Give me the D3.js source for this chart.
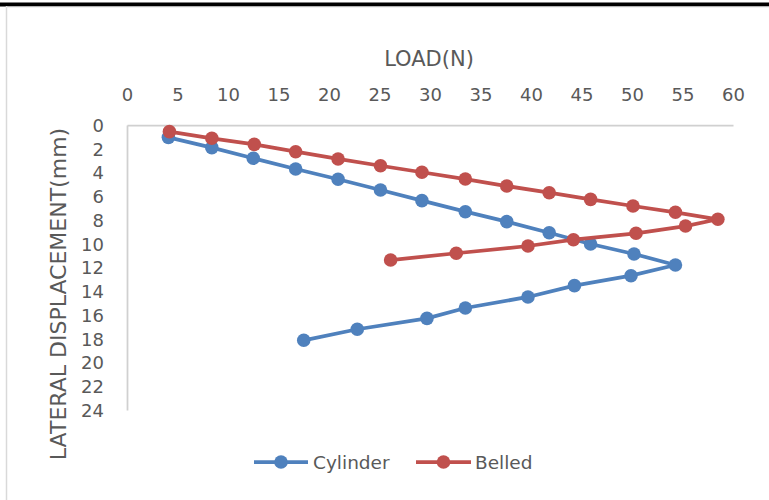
<!DOCTYPE html>
<html>
<head>
<meta charset="utf-8">
<script src="https://cdn.jsdelivr.net/npm/d3@7"></script>
<style>
  html, body { margin: 0; padding: 0; background: #fff; }
  svg { display: block; font-family: "DejaVu Sans", sans-serif; }
</style>
</head>
<body>
<svg id="chart" width="769" height="500"></svg>
<script>
// values
const xTicks = [0, 5, 10, 15, 20, 25, 30, 35, 40, 45, 50, 55, 60];
const yTicks = [0, 2, 4, 6, 8, 10, 12, 14, 16, 18, 20, 22, 24];

const cylinderLoad = [4.1, 8.4, 12.5, 16.7, 20.9, 25.1, 29.2, 33.5, 37.6, 41.8, 45.9, 50.2, 54.3,
  49.9, 44.3, 39.7, 33.5, 29.7, 22.8, 17.5];
const cylinderDisp = [1.04, 1.91, 2.8, 3.71, 4.57, 5.47, 6.37, 7.3, 8.14, 9.07, 10.02, 10.86, 11.79,
  12.69, 13.53, 14.48, 15.41, 16.28, 17.2, 18.13];

const belledLoad = [4.2, 8.4, 12.6, 16.7, 20.9, 25.1, 29.2, 33.5, 37.6, 41.8, 45.9, 50.1, 54.3, 58.5,
  55.3, 50.4, 44.2, 39.7, 32.6, 26.1];
const belledDisp = [0.56, 1.12, 1.63, 2.25, 2.86, 3.43, 3.98, 4.55, 5.14, 5.7, 6.26, 6.82, 7.35, 7.94,
  8.51, 9.12, 9.66, 10.19, 10.8, 11.37];

const seriesNames = ["Cylinder", "Belled"];
const colors = ["#4f81bd", "#c0504d"];

const series = [
  cylinderLoad.map((x, i) => ({ x, y: cylinderDisp[i] })),
  belledLoad.map((x, i) => ({ x, y: belledDisp[i] })),
];

const svg = d3.select("#chart");
const textColor = "#595959";
const gridColor = "#d0d0d0";

// frame: dark bar on top, faint border on the left
svg.append("rect").attr("x", 0).attr("y", 2.5).attr("width", 769).attr("height", 4).attr("fill", "#000");
svg.append("line")
  .attr("x1", 6.5).attr("x2", 6.5).attr("y1", 6).attr("y2", 500)
  .attr("stroke", "#d9d9d9").attr("stroke-width", 1.5);
svg.append("line")
  .attr("x1", 6).attr("x2", 769).attr("y1", 7).attr("y2", 7)
  .attr("stroke", "#e6e6e6").attr("stroke-width", 1);

const x = d3.scaleLinear().domain([0, 60]).range([127, 733]);
const y = d3.scaleLinear().domain([0, 24]).range([125, 410]);

// top x axis
const xAxis = d3.axisTop(x).tickValues(xTicks).tickSize(0).tickPadding(0);
const xAxisG = svg.append("g").attr("transform", `translate(0,${y(0)})`).call(xAxis);
xAxisG.select(".domain").attr("stroke", gridColor).attr("stroke-width", 1.75);
xAxisG.selectAll(".tick text")
  .attr("y", -30)
  .attr("dy", "0.36em")
  .attr("fill", textColor)
  .style("font-size", "18px")
  .style("font-family", "DejaVu Sans, sans-serif");

// left y axis
const yAxis = d3.axisLeft(y).tickValues(yTicks).tickSize(0).tickPadding(0);
const yAxisG = svg.append("g").attr("transform", `translate(${x(0)},0)`).call(yAxis);
yAxisG.select(".domain").attr("stroke", gridColor).attr("stroke-width", 1.75);
yAxisG.selectAll(".tick text")
  .attr("x", -23)
  .attr("dy", "0.36em")
  .attr("fill", textColor)
  .style("font-size", "18px")
  .style("font-family", "DejaVu Sans, sans-serif");

// axis titles
svg.append("text")
  .attr("x", 429).attr("y", 59)
  .attr("text-anchor", "middle")
  .attr("dominant-baseline", "central")
  .attr("fill", textColor)
  .style("font-size", "21px")
  .text("LOAD(N)");

svg.append("text")
  .attr("transform", "translate(58,294) rotate(-90)")
  .attr("text-anchor", "middle")
  .attr("dominant-baseline", "central")
  .attr("fill", textColor)
  .style("font-size", "22px")
  .text("LATERAL DISPLACEMENT(mm)");

// series
const line = d3.line().x((d) => x(d.x)).y((d) => y(d.y));
const plotG = svg.append("g");
series.forEach((data, i) => {
  const g = plotG.append("g");
  g.append("path")
    .datum(data)
    .attr("d", line)
    .attr("fill", "none")
    .attr("stroke", colors[i])
    .attr("stroke-width", 3.75)
    .attr("stroke-linejoin", "round");
  g.selectAll("circle")
    .data(data)
    .join("circle")
    .attr("cx", (d) => x(d.x))
    .attr("cy", (d) => y(d.y))
    .attr("r", 6.8)
    .attr("fill", colors[i]);
});

// legend
const legendItems = [
  { x0: 254, x1: 308, tx: 313 },
  { x0: 416, x1: 471, tx: 475 },
];
const legendY = 462;
const legendG = svg.append("g");
legendItems.forEach((it, i) => {
  legendG.append("line")
    .attr("x1", it.x0).attr("x2", it.x1)
    .attr("y1", legendY).attr("y2", legendY)
    .attr("stroke", colors[i]).attr("stroke-width", 3.75);
  legendG.append("circle")
    .attr("cx", (it.x0 + it.x1) / 2).attr("cy", legendY)
    .attr("r", 6.8).attr("fill", colors[i]);
  legendG.append("text")
    .attr("x", it.tx).attr("y", legendY)
    .attr("dominant-baseline", "central")
    .attr("fill", textColor)
    .style("font-size", "18.5px")
    .text(seriesNames[i]);
});
</script>
</body>
</html>
